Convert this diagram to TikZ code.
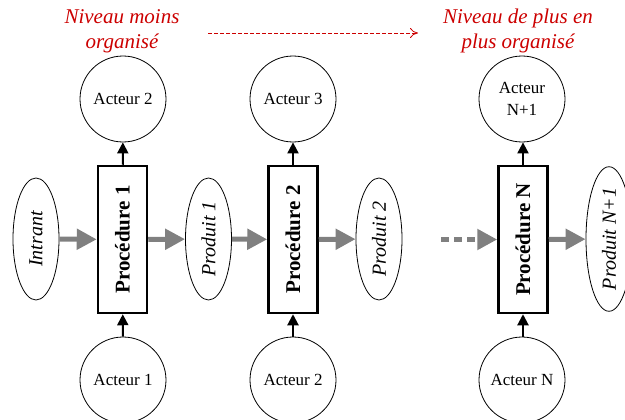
\documentclass[tikz,border=0pt]{standalone}
\usepackage{fontspec}
\setmainfont{Liberation Serif}
\usetikzlibrary{arrows.meta,shapes.geometric}
\definecolor{redtxt}{RGB}{204,0,0}
\definecolor{flowgray}{RGB}{128,128,128}
\tikzset{
  procbox/.style={draw,line width=2.5pt,minimum width=49pt,minimum height=147pt,inner sep=0pt,font=\fontsize{21}{25}\selectfont\bfseries},
  actor/.style={draw,circle,line width=0.8pt,minimum size=86pt,inner sep=0pt,align=center,font=\fontsize{17}{22}\selectfont},
  prod/.style={draw,ellipse,line width=0.8pt,minimum width=46pt,minimum height=122pt,inner sep=0pt,font=\fontsize{20}{24}\selectfont\itshape},
  level/.style={text=redtxt,align=center,font=\fontsize{21}{25}\selectfont\itshape},
  flow/.style={flowgray,line width=5pt,-{Triangle[length=20pt,width=20pt]}},
  dflow/.style={flow,dash pattern=on 8pt off 5pt},
  role/.style={line width=2pt,-{Triangle[length=11pt,width=11pt]}},
  trend/.style={redtxt,line width=0.8pt,dash pattern=on 4pt off 2pt,-{To[length=8pt,width=10pt]}}
}
\begin{document}
\begin{tikzpicture}[x=1pt,y=-1pt]
\useasboundingbox (0,0) rectangle (625,420);
% red level labels
\node[level] (lowlvl) at (122,31) {Niveau moins\\organisé};
\node[level] (highlvl) at (518,31) {Niveau de plus en\\plus organisé};
\coordinate (trendS) at (208,33);
\coordinate (trendE) at (418,33);
\draw[trend] (trendS) -- (trendE);
% procedures
\node[procbox] (p1) at (122.5,239.5) {\rotatebox{90}{Procédure 1}};
\node[procbox] (p2) at (293,239.5) {\rotatebox{90}{Procédure 2}};
\node[procbox] (pN) at (523,239.5) {\rotatebox{90}{Procédure N}};
% products
\node[prod] (intr) at (36,239) {\rotatebox{90}{Intrant}};
\node[prod] (pr1) at (208.5,239) {\rotatebox{90}{Produit 1}};
\node[prod] (pr2) at (379,239) {\rotatebox{90}{Produit 2}};
\node[prod] (prN) at (609,239) {\rotatebox{90}{Produit N+1}};
% actors
\node[actor] (at1) at (123,99) {Acteur 2};
\node[actor] (at2) at (293,99) {Acteur 3};
\node[actor] (atN) at (522,99) {Acteur\\N+1};
\node[actor] (ab1) at (123,380) {Acteur 1};
\node[actor] (ab2) at (293,380) {Acteur 2};
\node[actor] (abN) at (522,380) {Acteur N};
% flows
\draw[flow] (intr) -- (p1);
\draw[flow] (p1) -- (pr1);
\draw[flow] (pr1) -- (p2);
\draw[flow] (p2) -- (pr2);
\coordinate (dots) at (441,239.5);
\draw[dflow] (dots) -- (pN);
\draw[flow] (pN) -- (prN);
% roles
\draw[role] (p1) -- (at1);
\draw[role] (p2) -- (at2);
\draw[role] (pN.north) -- (pN.north |- atN.south);
\draw[role] (ab1) -- (p1);
\draw[role] (ab2) -- (p2);
\draw[role] (abN.north -| pN.south) -- (pN.south);
\end{tikzpicture}
\end{document}
